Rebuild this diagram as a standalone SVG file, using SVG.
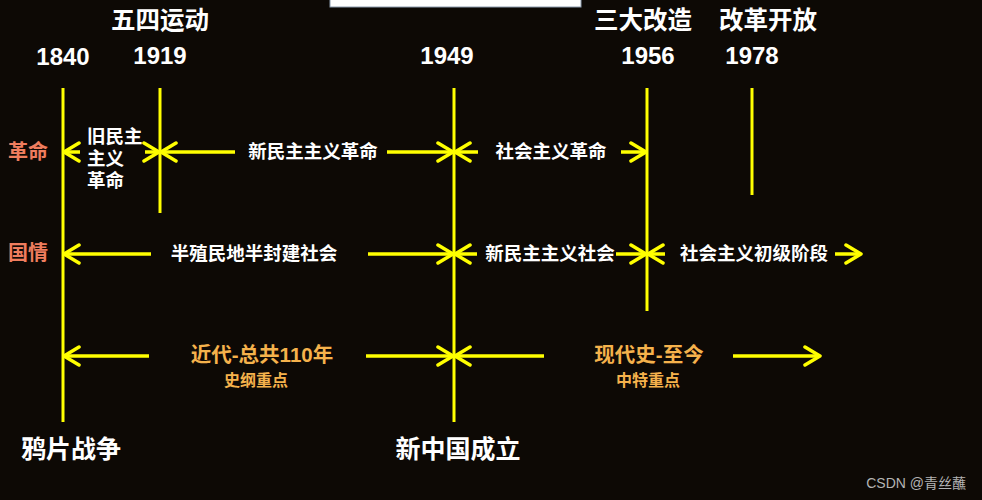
<svg xmlns="http://www.w3.org/2000/svg" width="982" height="500" viewBox="0 0 982 500">
<defs>
<style>
.bg{fill:#0d0905}
.vl{stroke:#ffff00;stroke-width:3;fill:none}
.ar{stroke:#ffff00;stroke-width:3.5;fill:none;marker-end:url(#ah)}
.t{font-family:"Liberation Sans","Noto Sans CJK SC",sans-serif;font-weight:bold;text-anchor:middle}
.w{fill:#ffffff}
.s{fill:#ef7d5e}
.o{fill:#f5b24c}
</style>
<marker id="ah" markerUnits="userSpaceOnUse" viewBox="-18 -12 20 24" markerWidth="20" markerHeight="24" refX="0" refY="0" orient="auto">
<path d="M-15,-9 L0,0 L-15,9" fill="none" stroke="#ffff00" stroke-width="3.5" stroke-linecap="round" stroke-linejoin="round"/>
</marker>
</defs>
<rect class="bg" x="0" y="0" width="982" height="500"/>
<rect x="330" y="-2" width="251" height="9" fill="#ffffff" stroke="#8a9aac" stroke-width="1"/>

<g id="connectors">
<line class="vl" x1="63" y1="88" x2="63" y2="422"/>
<line class="vl" x1="160" y1="88" x2="160" y2="213"/>
<line class="vl" x1="454" y1="88" x2="454" y2="422"/>
<line class="vl" x1="647" y1="88" x2="647" y2="311"/>
<line class="vl" x1="752" y1="88" x2="752" y2="195"/>
<path class="ar" d="M80,152 L64,152"/>
<path class="ar" d="M145,152 L159,152"/>
<path class="ar" d="M235,152 L161,152"/>
<path class="ar" d="M387,152 L453,152"/>
<path class="ar" d="M478,152 L455,152"/>
<path class="ar" d="M621,152 L646,152"/>
<path class="ar" d="M151,254 L64,254"/>
<path class="ar" d="M368,254 L453,254"/>
<path class="ar" d="M477,254 L455,254"/>
<path class="ar" d="M616,254 L646,254"/>
<path class="ar" d="M665,254 L648,254"/>
<path class="ar" d="M835,254 L861,254"/>
<path class="ar" d="M149,356 L64,356"/>
<path class="ar" d="M366,356 L453,356"/>
<path class="ar" d="M544,356 L455,356"/>
<path class="ar" d="M733,356 L820,356"/>
</g>

<g id="event-wusi"><text class="t w" x="160" y="29" font-size="24.5">五四运动</text></g>
<g id="event-sanda"><text class="t w" x="643" y="29" font-size="24.5">三大改造</text></g>
<g id="event-gaige"><text class="t w" x="768" y="29" font-size="24.5">改革开放</text></g>

<g id="year-1840"><text class="t w" x="63" y="65" font-size="24">1840</text></g>
<g id="year-1919"><text class="t w" x="160" y="64" font-size="24">1919</text></g>
<g id="year-1949"><text class="t w" x="447" y="64" font-size="24">1949</text></g>
<g id="year-1956"><text class="t w" x="648" y="64" font-size="24">1956</text></g>
<g id="year-1978"><text class="t w" x="752" y="64" font-size="24">1978</text></g>

<g id="row-geming"><text class="t s" x="28" y="159" font-size="20">革命</text></g>
<g id="row-guoqing"><text class="t s" x="28" y="260" font-size="20">国情</text></g>

<g id="old-democratic">
<text class="w" x="87" y="143" font-size="18.5" font-family="Liberation Sans,Noto Sans CJK SC,sans-serif" font-weight="bold">旧民主</text>
<text class="w" x="87" y="165" font-size="18.5" font-family="Liberation Sans,Noto Sans CJK SC,sans-serif" font-weight="bold">主义</text>
<text class="w" x="87" y="187" font-size="18.5" font-family="Liberation Sans,Noto Sans CJK SC,sans-serif" font-weight="bold">革命</text>
</g>
<g id="new-democratic-rev"><text class="t w" x="313" y="158" font-size="18.5">新民主主义革命</text></g>
<g id="socialist-rev"><text class="t w" x="551" y="158" font-size="18.5">社会主义革命</text></g>

<g id="semi-colonial"><text class="t w" x="254" y="260" font-size="18.5">半殖民地半封建社会</text></g>
<g id="new-democratic-soc"><text class="t w" x="550" y="260" font-size="18.5">新民主主义社会</text></g>
<g id="primary-stage"><text class="t w" x="754" y="260" font-size="18.5">社会主义初级阶段</text></g>

<g id="modern-early">
<text class="t o" x="262" y="362" font-size="20.5">近代-总共110年</text>
<text class="t o" x="256" y="386" font-size="16">史纲重点</text>
</g>
<g id="modern-now">
<text class="t o" x="649" y="362" font-size="20.5">现代史-至今</text>
<text class="t o" x="648" y="386" font-size="16">中特重点</text>
</g>

<g id="opium-war"><text class="t w" x="71" y="458" font-size="25">鸦片战争</text></g>
<g id="new-china"><text class="t w" x="458" y="458" font-size="25">新中国成立</text></g>

<g id="watermark"><text x="966" y="488" font-size="14" fill="#b4b4b4" text-anchor="end" font-family="Liberation Sans,Noto Sans CJK SC,sans-serif">CSDN @青丝蘸</text></g>
</svg>
